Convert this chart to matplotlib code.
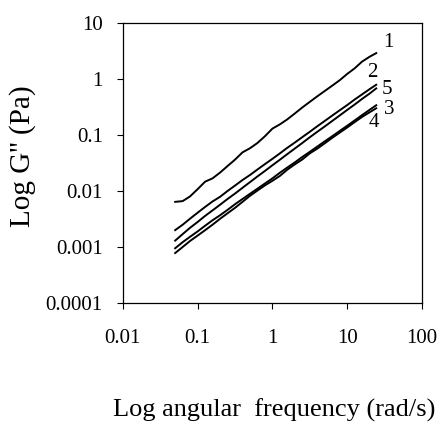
import matplotlib
matplotlib.use("Agg")
from matplotlib import pyplot as plt

plt.rcParams['font.family'] = ['Liberation Serif', 'DejaVu Serif']

# angular frequency (rad/s)
freq = [0.05, 0.063, 0.079, 0.1, 0.126, 0.158, 0.2, 0.251, 0.316, 0.398,
        0.501, 0.631, 0.794, 1.0, 1.26, 1.58, 2.0, 2.51, 3.16, 3.98,
        5.01, 6.31, 7.94, 10.0, 12.6, 15.8, 20.0, 24.5]

# G'' (Pa) for the five samples
g1 = [0.0064, 0.0066, 0.0080, 0.0108, 0.0147, 0.0168, 0.0214, 0.0279, 0.0363, 0.049,
      0.058, 0.072, 0.095, 0.130, 0.155, 0.19, 0.243, 0.31, 0.39, 0.49,
      0.61, 0.76, 0.95, 1.23, 1.55, 2.04, 2.5, 2.9]
g2 = [0.0020, 0.0025, 0.0032, 0.0041, 0.0052, 0.0065, 0.0079, 0.0100, 0.0125, 0.0157,
      0.0193, 0.0242, 0.0302, 0.0375, 0.0470, 0.0590, 0.0735, 0.0915, 0.114, 0.143,
      0.178, 0.222, 0.276, 0.342, 0.430, 0.530, 0.66, 0.79]
g5 = [0.0013, 0.0017, 0.0022, 0.0028, 0.0036, 0.0045, 0.0057, 0.0072, 0.0090, 0.0114,
      0.0144, 0.0182, 0.0228, 0.0288, 0.0362, 0.0455, 0.0575, 0.0720, 0.091, 0.114,
      0.142, 0.178, 0.223, 0.280, 0.350, 0.440, 0.55, 0.68]
g3 = [0.00095, 0.00122, 0.00152, 0.0019, 0.0024, 0.0030, 0.0037, 0.0046, 0.0058, 0.0072,
      0.0089, 0.0110, 0.0136, 0.0168, 0.0212, 0.0262, 0.0325, 0.0405, 0.050, 0.062,
      0.077, 0.095, 0.118, 0.146, 0.182, 0.226, 0.282, 0.34]
g4 = [0.00078, 0.00100, 0.00128, 0.0016, 0.0020, 0.0025, 0.0032, 0.0040, 0.0050, 0.0064,
      0.0082, 0.0102, 0.0126, 0.0152, 0.0186, 0.0240, 0.0300, 0.0365, 0.047, 0.057,
      0.071, 0.089, 0.110, 0.136, 0.170, 0.210, 0.255, 0.30]

series = [g1, g2, g5, g3, g4]
curve_names = ["1", "2", "5", "3", "4"]
# where each curve number is written
name_pos = [(36, 4.4), (21.5, 1.33), (34, 0.64), (36, 0.28), (23, 0.17)]

xticks = [0.01, 0.1, 1, 10, 100]
xticklabels = ["0.01", "0.1", "1", "10", "100"]
yticks = [0.0001, 0.001, 0.01, 0.1, 1, 10]
yticklabels = ["0.0001", "0.001", "0.01", "0.1", "1", "10"]

fig = plt.figure(figsize=(4.39, 4.23), dpi=100)
ax = fig.add_axes([0.280, 0.2837, 0.681, 0.6619])

for g in series:
    ax.plot(freq, g, color='black', linewidth=1.4)

for name, (px, py) in zip(curve_names, name_pos):
    ax.text(px, py, name, fontsize=15, ha='center', va='center')

ax.set_xscale('log')
ax.set_yscale('log')
ax.set_xlim(0.01, 100)
ax.set_ylim(0.0001, 10)
ax.set_xticks(xticks)
ax.set_xticklabels(xticklabels)
ax.set_yticks(yticks)
ax.set_yticklabels(yticklabels)
ax.minorticks_off()
ax.tick_params(axis='x', length=4.5, width=0.8, pad=14, labelsize=15)
ax.tick_params(axis='y', length=4.5, width=0.8, pad=10, labelsize=15)
for sp in ax.spines.values():
    sp.set_linewidth(0.9)

fig.text(0.625, 1 - 417 / 423, "Log angular  frequency (rad/s)", fontsize=19,
         ha='center', va='baseline')
fig.text(23 / 439, 1 - 156 / 423, "Log G'' (Pa)", fontsize=21, rotation=90,
         ha='center', va='center')

fig.savefig("out.png", dpi=100)
